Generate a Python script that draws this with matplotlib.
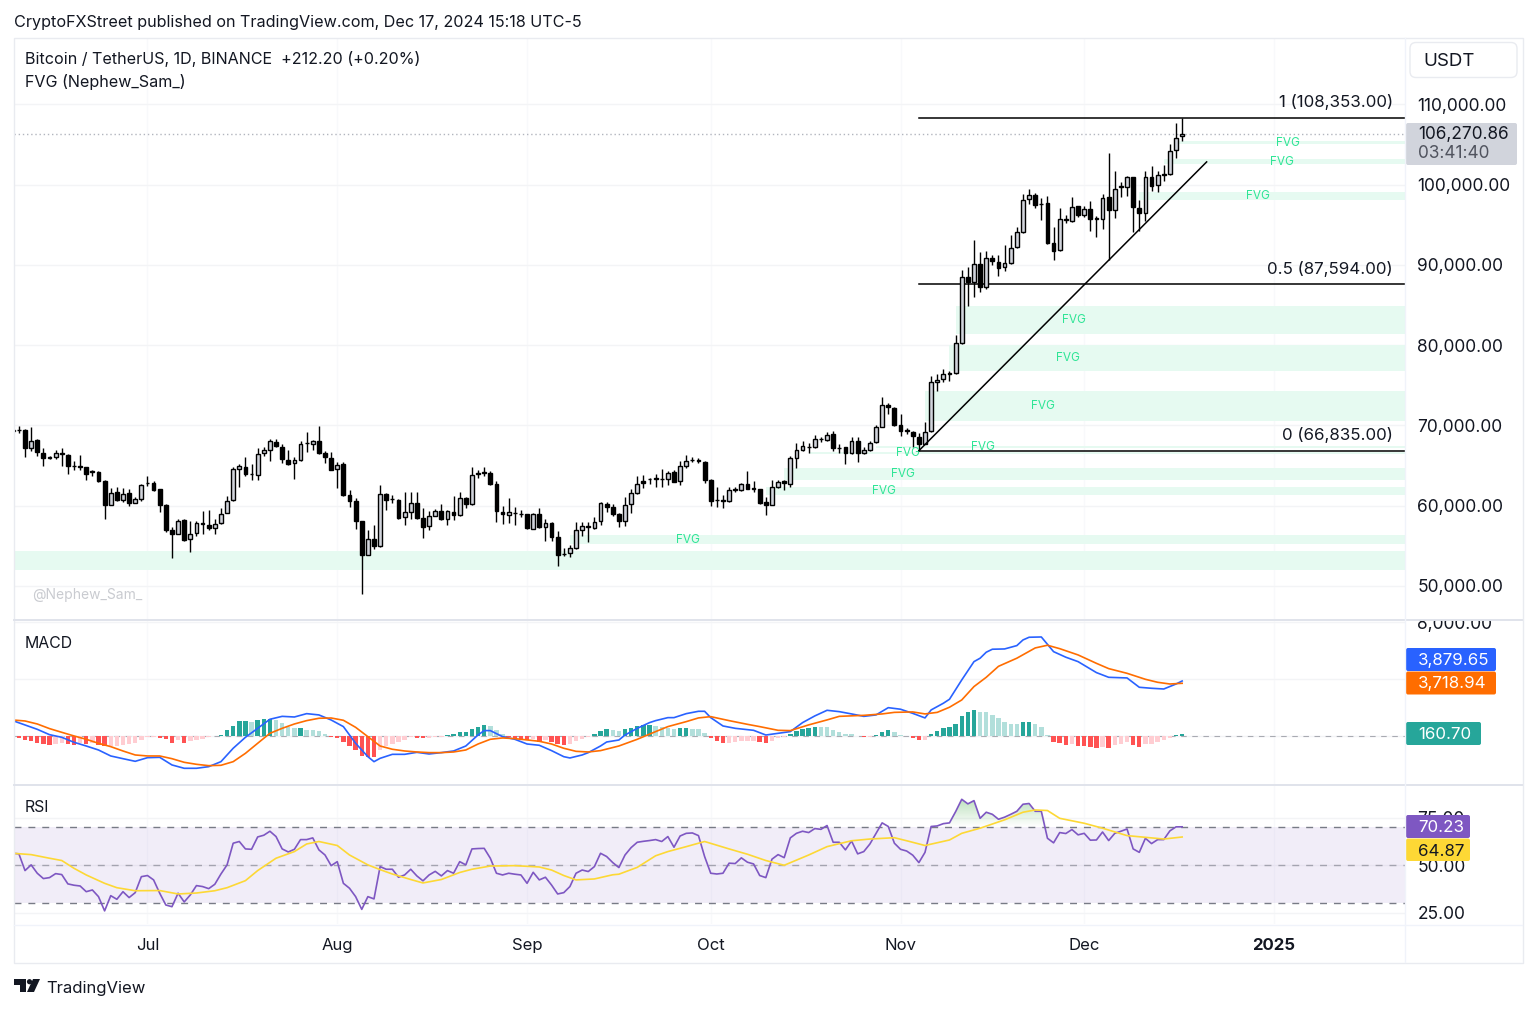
import numpy as np
import matplotlib
matplotlib.use('Agg')
import matplotlib.pyplot as plt
from matplotlib.patches import FancyBboxPatch, Rectangle, Circle, Polygon
from matplotlib.path import Path

plt.rcParams['font.family'] = ['Inter', 'DejaVu Sans']

W, H = 1536, 1010

# daily BTC candles in thousands of USDT, first bar is 22 days before Jul 1
opens = [
    69.3, 69.44, 69.42, 67.14, 68.17, 66.60, 65.97, 66.10, 66.50, 66.35,
    64.95, 64.90, 64.77, 64.25, 64.15, 63.11, 60.12, 61.66, 60.70, 61.53,
    60.37, 60.79, 62.78, 62.78, 62.03, 60.08, 56.89, 56.47, 58.17, 55.77,
    56.60, 57.88, 57.55, 57.22, 57.80, 59.09, 60.66, 64.56, 64.85, 63.90,
    63.82, 66.51, 66.93, 67.97, 67.34, 65.68, 65.27, 65.68, 67.75, 67.68,
    68.05, 66.60, 65.97, 64.56, 65.19, 61.29, 60.58, 58.01, 53.86, 55.85,
    54.94, 61.45, 60.75, 60.70, 58.59, 59.25, 60.33, 58.50, 57.43, 58.71,
    59.33, 58.30, 59.25, 58.84, 60.91,
    60.21, 63.94, 64.10, 64.11, 62.70, 59.25, 58.84, 59.10, 59.0, 58.88,
    57.13, 58.96, 57.34, 57.84, 56.06, 53.95, 54.06, 54.73, 56.97, 57.43,
    57.22, 58.05, 60.25, 59.83, 58.96, 58.13, 60.16, 61.58, 63.03, 63.25,
    63.44, 63.33, 63.28, 64.15, 63.03, 64.98, 65.70, 65.62, 65.44, 63.19,
    60.72, 60.62, 60.54, 61.96, 61.95, 62.65, 62.15, 62.03, 60.41, 60.12,
    62.36, 63.03, 62.70, 65.93, 66.97, 67.30, 67.26, 68.30, 68.22, 68.92,
    67.14, 67.26, 66.51, 68.01, 66.51, 66.93, 67.88, 69.83, 72.49, 72.20,
    70.04, 69.38, 69.21, 68.57,
    67.73, 69.23, 75.34, 75.72, 76.45, 76.47, 80.21, 88.44, 87.82, 90.10,
    87.19, 90.85, 90.39, 89.69, 90.23, 92.18, 94.10, 98.21, 98.75, 97.55,
    97.71, 92.77, 91.85, 95.59, 95.47, 97.30, 96.22, 96.96, 95.76, 95.72,
    98.42, 96.88, 99.70, 99.71, 100.96, 97.13, 96.51, 101.0, 99.96, 101.25,
    101.29, 104.28, 106.06,
]
highs = [
    69.6, 69.96, 69.5, 69.83, 68.30, 67.14, 66.22, 66.93, 67.14, 66.43,
    65.60, 66.35, 64.85, 64.48, 64.36, 63.19, 62.20, 62.36, 62.20, 62.07,
    61.04, 62.70, 63.69, 63.11, 62.12, 60.16, 57.38, 58.34, 58.26, 58.05,
    58.05, 59.29, 59.46, 58.34, 59.71, 61.24, 64.77, 65.19, 66.02, 65.19,
    67.18, 67.26, 68.30, 68.30, 67.68, 66.93, 66.02, 68.01, 69.21, 68.17,
    69.96, 66.76, 66.64, 65.48, 65.39, 61.99, 60.91, 58.09, 56.89, 57.59,
    62.61, 61.62, 61.37, 60.79, 61.66, 61.66, 61.66, 59.71, 59.29, 59.58,
    60.21, 59.46, 61.24, 61.66, 61.04,
    64.85, 64.44, 64.77, 64.36, 63.11, 60.0, 60.95, 59.79, 59.38, 58.96,
    59.04, 59.67, 58.34, 57.92, 56.80, 54.69, 55.02, 57.92, 57.92, 57.92,
    58.55, 60.41, 60.41, 60.21, 59.04, 61.12, 62.07, 63.73, 63.86, 63.44,
    63.94, 64.52, 64.36, 64.44, 65.60, 66.31, 66.10, 65.93, 65.52, 63.28,
    62.28, 61.33, 62.36, 62.28, 62.78, 64.36, 63.03, 62.11, 61.04, 63.19,
    63.19, 63.19, 66.14, 67.76, 68.09, 67.76, 68.84, 68.59, 69.13, 69.25,
    67.68, 67.34, 68.59, 68.59, 67.26, 68.09, 70.08, 73.49, 72.74, 72.32,
    71.41, 69.67, 69.25, 69.0,
    70.35, 76.17, 76.38, 77.0, 76.72, 81.29, 89.40, 89.69, 93.10, 91.56,
    91.77, 91.23, 91.27, 92.52, 93.76, 94.68, 98.84, 99.46, 98.92, 98.34,
    98.63, 94.76, 97.05, 96.26, 98.42, 97.38, 97.38, 98.0, 96.13, 98.84,
    103.95, 101.75, 100.29, 101.12, 101.0, 98.09, 101.75, 102.37, 101.66, 102.45,
    105.07, 107.65, 108.353,
]
lows = [
    69.1, 69.05, 66.02, 66.85, 66.22, 64.98, 65.77, 65.81, 64.98, 63.94,
    64.48, 64.44, 63.24, 63.73, 62.99, 58.30, 60.12, 60.62, 60.41, 59.92,
    60.29, 60.62, 62.41, 61.78, 59.25, 56.68, 53.44, 56.39, 55.60, 54.19,
    56.26, 56.47, 56.97, 56.47, 57.72, 59.04, 60.62, 62.28, 63.73, 63.19,
    63.24, 66.14, 65.60, 67.26, 65.27, 65.10, 63.32, 65.60, 66.64, 66.93,
    66.43, 65.27, 64.44, 62.20, 61.16, 59.79, 57.09, 48.92, 53.82, 54.56,
    54.81, 59.38, 60.29, 58.30, 57.51, 58.34, 58.34, 55.93, 56.97, 58.63,
    58.21, 57.63, 58.21, 58.71, 59.67,
    60.12, 63.44, 63.73, 62.61, 57.92, 57.72, 57.80, 57.51, 58.55, 57.09,
    57.05, 57.22, 55.56, 55.56, 52.45, 53.65, 53.57, 54.56, 56.26, 55.39,
    57.13, 57.55, 59.17, 58.71, 57.38, 57.47, 59.04, 61.45, 62.20, 62.70,
    62.28, 62.36, 62.57, 62.90, 62.57, 64.69, 65.39, 65.35, 62.78, 60.0,
    59.87, 59.71, 60.41, 61.66, 61.78, 62.03, 61.66, 60.21, 58.84, 60.04,
    62.20, 61.95, 62.28, 64.69, 66.76, 66.56, 67.18, 67.88, 68.01, 66.76,
    66.60, 65.14, 66.43, 65.44, 66.43, 66.85, 67.76, 69.75, 71.41, 69.96,
    68.71, 68.92, 67.34, 66.84,
    67.65, 69.11, 74.30, 75.34, 75.55, 76.38, 80.12, 84.91, 86.03, 86.57,
    86.99, 90.02, 88.57, 89.27, 90.10, 92.10, 94.01, 97.59, 97.09, 95.59,
    92.60, 90.64, 91.73, 95.26, 95.30, 96.01, 96.01, 94.26, 93.43, 94.47,
    90.60, 95.84, 98.42, 98.54, 94.05, 94.26, 95.51, 99.25, 99.13, 100.50,
    101.21, 103.28, 105.49,
]
closes = [
    69.4, 69.46, 67.14, 68.09, 66.64, 65.93, 66.02, 66.56, 66.43, 64.98,
    64.90, 64.85, 63.94, 64.23, 63.03, 60.12, 61.62, 60.70, 61.49, 60.29,
    60.79, 62.57, 62.82, 61.95, 60.04, 56.89, 56.47, 58.09, 55.68, 56.51,
    57.88, 57.67, 57.14, 57.67, 59.00, 60.62, 64.56, 64.90, 63.90, 63.98,
    66.47, 66.89, 68.01, 67.39, 65.77, 65.19, 65.68, 67.68, 67.76, 68.01,
    66.60, 66.02, 64.48, 65.10, 61.29, 60.54, 58.05, 53.86, 55.85, 54.94,
    61.45, 60.70, 60.83, 58.50, 59.17, 60.33, 58.46, 57.38, 58.67, 59.29,
    58.26, 59.29, 58.84, 60.95, 60.21,
    63.86, 64.02, 64.15, 62.70, 59.29, 58.88, 59.17, 59.09, 59.0, 57.18,
    58.92, 57.30, 57.80, 56.06, 53.82, 53.90, 54.65, 56.89, 57.47, 57.30,
    57.96, 60.29, 59.83, 58.96, 58.09, 60.08, 61.53, 62.74, 62.86, 63.28,
    63.28, 63.36, 64.07, 62.99, 64.94, 65.52, 65.73, 65.58, 63.19, 60.62,
    60.70, 60.68, 61.91, 62.0, 62.65, 62.11, 62.11, 60.37, 60.12, 62.28,
    62.99, 62.86, 65.89, 66.89, 67.43, 67.34, 68.26, 68.34, 68.84, 67.18,
    67.18, 66.51, 68.01, 66.51, 66.93, 67.80, 69.83, 72.49, 72.24, 70.08,
    69.34, 69.34, 68.63, 67.65,
    69.11, 75.34, 75.68, 76.38, 76.51, 80.21, 88.44, 87.82, 90.10, 87.28,
    90.81, 90.44, 89.65, 90.19, 92.10, 94.05, 98.13, 98.67, 97.51, 97.59,
    92.77, 91.77, 95.68, 95.72, 97.26, 96.17, 96.92, 95.72, 95.80, 98.38,
    96.80, 99.50, 99.79, 100.96, 97.17, 96.51, 100.91, 99.88, 101.16, 101.29,
    104.24, 105.86, 106.27,
]

# fair value gap boxes: first day, top, bottom (thousands), label day (None = no label)
fvg_start = [-30, 69, 101, 104, 108, 119, 127, 131, 132, 162, 166, 168]
fvg_top = [54.27, 56.27, 62.37, 64.72, 66.72, 67.45, 74.33, 80.05, 84.91, 99.10, 103.17, 105.45]
fvg_bottom = [51.91, 55.20, 61.25, 63.22, 66.48, 67.20, 70.49, 76.82, 81.42, 98.11, 102.55, 105.04]
fvg_label_day = [None, 88.3, 120.3, 123.4, 124.2, 136.5, 146.3, 150.4, 151.4, 181.4, 185.3, 186.3]

fib_levels = [108.353, 87.594, 66.835]
fib_names = ['1 (108,353.00)', '0.5 (87,594.00)', '0 (66,835.00)']
trend_days = [126, 173]
trend_prices = [66.835, 102.84]
last_price = 106.27

macd_hist = [
    -70, -90, -280, -330, -440, -560, -590, -510, -500, -560,
    -590, -480, -520, -470, -590, -700, -690, -650, -590, -560,
    -470, -280, -70, -30, -90, -190, -470, -280, -470, -330,
    -230, -160, -70, 50, 120, 420, 750, 1050, 1060, 1030,
    1170, 1190, 1220, 1120, 940, 660, 590, 600, 470, 460,
    400, 190, -50, -120, -420, -700, -980, -1400, -1450, -1460,
    -940, -660, -510, -370, -280, -50, -140, -150, -90, -50,
    -20, 90, 140, 280, 330, 510, 660, 770, 700, 420,
    140, -20, -90, -230, -280, -190, -420, -280, -420, -560,
    -610, -560, -350, -190, -70, 140, 370, 490,
    470, 350, 510, 610, 700, 770, 780, 730, 660, 610,
    510, 590, 600, 540, 490, 230, -120, -330, -470, -440,
    -420, -330, -320, -310, -400, -470, -300, -140, -70, 190,
    400, 510, 590, 640, 630, 620, 470, 330, 190, 140,
    50, -70, -20, 70, 330, 470, 280, 120, 50, -120,
    -280, -260, 140, 350, 590, 640, 890, 1450, 1680, 1870,
    1690, 1680, 1520, 1290, 1010, 870, 840, 980, 990, 840,
    630, 90, -420, -470, -610, -560, -650, -660, -750, -820,
    -780, -790, -610, -560, -420, -610, -770, -560, -510, -370,
    -280, -140, 90, 160.70,
]

macd_days = [
    -22, -20, -18, -16, -14, -12, -10, -8, -6, -4, -2, 0, 2, 4, 6, 8, 10, 12, 14, 16,
    18, 20, 22, 24, 26, 28, 30, 32, 34, 36, 37, 38, 40, 42, 44, 46, 48, 50, 52, 54,
    55, 56, 58, 60, 62, 64, 66, 68, 69, 71, 72, 74, 75, 77, 78, 80, 82, 83, 85, 86,
    88, 90, 91, 92, 94, 96, 99, 101, 105, 107, 109, 111, 113, 115, 117, 119, 121, 123, 125, 127,
    128, 130, 131, 133, 135, 136, 137, 138, 140, 142, 143, 144, 146, 148, 150, 152, 155, 157, 160, 162,
    164, 166, 168, 169,
]
macd_line = [
    1100, 795, 490, 115, -70, -420, -680, -960, -1380, -1570, -1755, -1500, -1475, -2010, -2245, -2245, -2130, -1780, -840, -70,
    560, 1195, 1400, 1355, 1590, 1500, 1145, 680, -490, -1430, -1780, -1545, -1265, -1265, -1125, -1240, -1145, -1030, -680, 95,
    400, 400, -25, -210, -540, -630, -1005, -1430, -1520, -1310, -1145, -680, -400, -260, 90, 560, 960, 1100, 1310, 1310,
    1590, 1755, 1755, 1310, 725, 560, 420, 90, 330, 960, 1430, 1825, 1730, 1570, 1400, 1500, 2010, 1900, 1610, 1290,
    1850, 2320, 2600, 3955, 5240, 5480, 5900, 6110, 6130, 6365, 6760, 6950, 6970, 5940, 5550, 5240, 4470, 4140, 4095, 3440,
    3370, 3320, 3670, 3879.65,
]
signal_days = [
    -22, -20, -18, -16, -14, -12, -10, -8, -6, -4, -2, 0, 2, 4, 6, 8, 10, 12, 14, 16,
    18, 20, 22, 24, 26, 28, 30, 32, 34, 36, 38, 40, 42, 44, 46, 48, 50, 52, 54, 56,
    58, 60, 62, 64, 66, 68, 70, 72, 74, 77, 80, 83, 85, 88, 90, 92, 95, 98, 100, 103,
    105, 108, 111, 113, 117, 120, 122, 125, 127, 129, 131, 133, 135, 137, 139, 142, 145, 147, 149, 152,
    155, 157, 160, 163, 165, 167, 169,
]
signal_line = [
    1145, 1075, 865, 540, 280, 25, -210, -490, -725, -1030, -1310, -1380, -1380, -1570, -1825, -1965, -2060, -2035, -1780, -1195,
    -490, 210, 560, 865, 1100, 1265, 1285, 1125, 630, -25, -680, -910, -1030, -1100, -1145, -1145, -1100, -960, -540, -210,
    -115, -165, -255, -350, -540, -840, -1055, -1100, -1005, -680, -210, 330, 680, 1030, 1290, 1380, 1100, 840, 680, 420,
    400, 800, 1150, 1400, 1470, 1570, 1680, 1710, 1570, 1680, 2040, 2550, 3490, 4140, 4910, 5480, 6200, 6390, 6150, 5710,
    5120, 4750, 4420, 4000, 3790, 3670, 3718.94,
]

rsi = [
    56.3, 56.0, 47.2, 50.2, 45.8, 43.0, 43.5, 45.6, 45.1, 40.2,
    39.5, 39.1, 36.1, 37.0, 33.5, 26.0, 34.0, 32.1, 36.1, 33.0,
    35.6, 44.0, 44.6, 42.3, 35.3, 29.1, 28.2, 35.3, 30.7, 34.4,
    39.3, 38.8, 37.7, 40.0, 45.4, 50.2, 61.6, 62.5, 58.6, 58.4,
    64.9, 65.8, 67.9, 65.1, 58.6, 57.0, 58.4, 63.5, 63.5, 64.4,
    58.1, 55.4, 49.8, 51.9, 40.5, 37.9, 33.5, 26.8, 33.5, 32.3,
    49.3, 47.9, 47.9, 43.7, 44.9, 47.9, 44.4, 41.8, 44.9, 46.8,
    44.4, 47.2, 45.8, 51.9, 50.2, 58.6, 58.8, 58.9, 53.7, 45.8,
    44.9, 45.8, 45.3, 44.9, 40.5, 46.3, 42.3, 43.7, 39.6, 34.9,
    35.6, 38.8, 45.8, 47.5, 46.7, 49.3, 56.3, 54.6,
    51.4, 48.8, 55.4, 59.3, 62.1, 62.6, 63.0, 63.5, 62.5, 65.1,
    59.5, 65.4, 66.8, 67.0, 65.6, 54.6, 45.8, 45.4, 45.8, 51.1,
    50.9, 53.9, 51.6, 50.7, 44.6, 43.5, 53.2, 55.6, 54.0, 64.4,
    66.8, 67.9, 67.2, 69.3, 68.9, 70.9, 62.1, 62.1, 58.1, 62.8,
    56.0, 57.2, 61.2, 66.8, 72.3, 70.4, 61.6, 58.4, 57.5, 55.3,
    51.4, 56.8, 70.4, 70.7, 71.9, 72.3, 78.2, 84.7, 82.3, 84.0,
    74.7, 77.9, 76.8, 74.2, 75.3, 76.8, 78.4, 82.1, 82.5, 78.4,
    78.4, 64.2, 61.8, 67.2, 66.7, 68.8, 66.0, 66.8, 63.2, 63.3,
    67.5, 63.0, 66.8, 67.9, 69.1, 58.6, 56.8, 64.2, 61.4, 63.5,
    63.5, 68.1, 70.2, 70.23,
]
rsi_ma_days = [
    -22, -19, -16, -14, -12, -10, -7, -5, -2, 2, 5, 8, 11, 13, 16, 18, 21, 24, 26, 28,
    31, 33, 36, 38, 40, 43, 45, 48, 51, 53, 56, 60, 64, 66, 68, 70, 73, 76, 77, 80,
    83, 85, 88, 91, 95, 98, 101, 104, 108, 111, 115, 118, 122, 124, 127, 131, 133, 136, 140, 143,
    145, 147, 149, 153, 156, 160, 163, 166, 169,
]
rsi_ma = [
    56.3, 55.6, 53.7, 52.5, 48.4, 44.9, 40.5, 38.2, 36.6, 36.7, 34.9, 35.4, 36.6, 38.2, 41.9, 47.2, 53.7, 57.2, 61.2, 62.5,
    60.4, 55.4, 50.2, 47.7, 45.4, 42.5, 40.7, 42.5, 46.2, 47.9, 49.6, 49.8, 49.1, 47.5, 44.6, 42.3, 42.8, 45.0, 45.3, 48.9,
    55.0, 57.2, 59.8, 62.5, 58.6, 55.8, 52.5, 50.0, 55.4, 59.8, 62.9, 63.8, 64.5, 62.9, 60.4, 63.3, 66.8, 69.5, 73.9, 77.9,
    79.1, 78.8, 74.7, 72.1, 69.5, 65.6, 64.7, 63.8, 64.87,
]

month_days = [0, 31, 62, 92, 123, 153, 184]
month_names = ['Jul', 'Aug', 'Sep', 'Oct', 'Nov', 'Dec', '2025']
price_ticks = [50, 60, 70, 80, 90, 100, 110]
macd_ticks = [0, 4000, 8000]
rsi_ticks = [25, 50, 75]

days = np.arange(len(closes)) - 22
opens = np.array(opens)
closes = np.array(closes)
highs = np.array(highs)
lows = np.array(lows)
macd_hist = np.array(macd_hist, dtype=float)
rsi = np.array(rsi)

INK = '#131722'
X_LEFT, X_RIGHT = -21.8, 205.4


def pane(y_top, y_bottom):
    ax = fig.add_axes([14 / W, 1 - y_bottom / H, (1405 - 14) / W, (y_bottom - y_top) / H])
    ax.set_xlim(X_LEFT, X_RIGHT)
    ax.set_xticks(month_days)
    ax.set_xticklabels([])
    ax.grid(True, axis='y', color='#f3f4f6', lw=1)
    ax.grid(True, axis='x', color='#f8f9fb', lw=1)
    ax.set_axisbelow(True)
    ax.yaxis.tick_right()
    ax.tick_params(axis='both', length=0)
    ax.tick_params(axis='y', pad=9.0, labelsize=12.5, labelcolor=INK)
    for s in ax.spines.values():
        s.set_visible(False)
    return ax


fig = plt.figure(figsize=(W / 100, H / 100), dpi=100, facecolor='white')

# price pane
ax = pane(38, 619)
ax.set_ylim(45.85, 118.29)
ax.set_yticks(price_ticks)
ax.set_yticklabels([f'{t * 1000:,.0f}.00' for t in price_ticks])

for start, zone_top, zone_bottom, lab in zip(fvg_start, fvg_top, fvg_bottom, fvg_label_day):
    ax.fill_between([start, X_RIGHT], zone_bottom, zone_top, color='#e6faf1', lw=0, zorder=1)
    if lab is not None:
        ax.text(lab, (zone_top + zone_bottom) / 2, 'FVG', color='#2fe596', fontsize=8.5,
                ha='center', va='center', zorder=6)

ax.axhline(last_price, color='#b2b5be', lw=1, ls=(0, (1, 2)), zorder=2)

up = closes >= opens
ax.vlines(days, lows, highs, color='black', lw=1.0, zorder=4)
ax.bar(days[up], (closes - opens)[up], bottom=opens[up], width=0.62,
       color='#d1d4dc', edgecolor='black', lw=1.0, zorder=5)
ax.bar(days[~up], (closes - opens)[~up], bottom=opens[~up], width=0.62,
       color='black', edgecolor='black', lw=1.0, zorder=5)

for level, name in zip(fib_levels, fib_names):
    ax.plot([126, X_RIGHT], [level, level], color='black', lw=1.1, zorder=3)
    ax.annotate(name, (203.4, level), xytext=(0, 11), textcoords='offset points',
                ha='right', va='center', fontsize=12.2, color=INK, zorder=7)
ax.plot(trend_days, trend_prices, color='black', lw=1.1, zorder=7)

# MACD pane, the 0 and 4,000 labels sit behind the value tags in the original
ax2 = pane(620, 784)
ax2.set_ylim(-3347, 8161)
ax2.set_yticks(macd_ticks)
ax2.set_yticklabels(['', '', '8,000.00'])
ax2.axhline(0, color='#787b86', lw=0.8, ls=(0, (5, 5)), alpha=0.6, zorder=2)

prev = np.r_[macd_hist[0], macd_hist[:-1]]
hist_colors = []
for v, p in zip(macd_hist, prev):
    if v >= 0:
        hist_colors.append('#26a69a' if v >= p else '#b2dfdb')
    else:
        hist_colors.append('#ffcdd2' if v >= p else '#ff5252')
ax2.bar(days, macd_hist, width=0.72, color=hist_colors, lw=0, zorder=3)
ax2.plot(macd_days, macd_line, color='#2962ff', lw=1.2, zorder=4)
ax2.plot(signal_days, signal_line, color='#ff6d00', lw=1.2, zorder=5)

# RSI pane
ax3 = pane(786, 924)
ax3.set_ylim(19.1, 91.7)
ax3.set_yticks(rsi_ticks)
ax3.set_yticklabels([f'{t:.2f}' for t in rsi_ticks])
ax3.fill_between([X_LEFT, X_RIGHT], 30, 70, color='#7e57c2', alpha=0.1, lw=0, zorder=1)
for level, alpha in zip([70, 50, 30], [1.0, 0.6, 1.0]):
    ax3.axhline(level, color='#787b86', lw=1, ls=(0, (5, 5)), alpha=alpha, zorder=2)

# overbought fill fades out towards the 70 line
gradient = np.zeros((64, 2, 4))
gradient[..., 0] = 0.30
gradient[..., 1] = 0.69
gradient[..., 2] = 0.31
gradient[..., 3] = np.linspace(0.38, 0, 64)[:, None]
over = ax3.fill_between(days, 70, np.maximum(rsi, 70), color='none', lw=0)
img = ax3.imshow(gradient, extent=[X_LEFT, X_RIGHT, 70, 85], origin='upper', aspect='auto', zorder=2)
img.set_clip_path(Path(over.get_paths()[0].vertices), transform=ax3.transData)
ax3.set_xlim(X_LEFT, X_RIGHT)
ax3.set_ylim(19.1, 91.7)

ax3.plot(days, rsi, color='#7e57c2', lw=1.2, zorder=4)
ax3.plot(rsi_ma_days, rsi_ma, color='#fdd835', lw=1.2, zorder=5)

ax3.set_xticklabels(month_names)
ax3.tick_params(axis='x', pad=10, labelsize=12, labelcolor=INK)
ax3.get_xticklabels()[-1].set_fontweight('bold')

# everything that sits around the panes, in picture pixels
top = fig.add_axes([0, 0, 1, 1], zorder=10)
top.set_xlim(0, W)
top.set_ylim(H, 0)
top.axis('off')
top.patch.set_visible(False)

top.add_patch(Rectangle((1406, 606), 115, 13.5, color='white', lw=0))
top.add_patch(Rectangle((13.5, 37.5), 1509, 925, fill=False, ec='#e9ebf0', lw=1))
top.plot([14, 1522], [619.5, 619.5], color='#e0e3eb', lw=1.4)
top.plot([14, 1522], [785, 785], color='#e0e3eb', lw=1.4)
top.plot([14, 1522], [924.5, 924.5], color='#f0f3fa', lw=1)
top.plot([1405, 1405], [38, 962], color='#f0f3fa', lw=1)


def tag(x0, y0, x1, y1, color):
    top.add_patch(FancyBboxPatch((x0, y0), x1 - x0, y1 - y0, boxstyle='round,pad=0,rounding_size=2',
                                 fc=color, ec='none'))


tag(1406, 123, 1517, 165, '#d1d4dc')
tag(1406, 648, 1496, 671, '#2962ff')
tag(1406, 671.5, 1496, 694.5, '#ff6d00')
tag(1406, 722, 1481, 745, '#26a69a')
tag(1406, 815, 1470, 838, '#7e57c2')
tag(1406, 838.5, 1470, 861, '#fdd835')

top.add_patch(FancyBboxPatch((1410, 42.5), 107, 35, boxstyle='round,pad=0,rounding_size=6',
                             fc='white', ec='#e9ebf0', lw=1))
top.text(1423, 61, 'USDT', fontsize=13.5, color=INK, va='center')

top.text(1418, 135, '106,270.86', fontsize=12.4, color=INK, va='center')
top.text(1418, 154, '03:41:40', fontsize=12.4, color='#50535e', va='center')
top.text(1418, 660.5, '3,879.65', fontsize=12.2, color='white', va='center')
top.text(1418, 683.5, '3,718.94', fontsize=12.2, color='white', va='center')
top.text(1418, 734.5, '160.70', fontsize=12.2, color='white', va='center')
top.text(1418, 827.5, '70.23', fontsize=12.2, color='white', va='center')
top.text(1418, 851, '64.87', fontsize=12.2, color=INK, va='center')

top.text(14, 23, 'CryptoFXStreet published on TradingView.com, Dec 17, 2024 15:18 UTC-5',
         fontsize=11.65, color=INK, va='center')
top.text(25, 59, 'Bitcoin / TetherUS, 1D, BINANCE  +212.20 (+0.20%)', fontsize=11.6, color=INK, va='center')
top.text(25, 82, 'FVG (Nephew_Sam_)', fontsize=11.6, color=INK, va='center')
top.text(25, 644, 'MACD', fontsize=11.4, color=INK, va='center')
top.text(25, 808, 'RSI', fontsize=11.4, color=INK, va='center')
top.text(32, 595, '@Nephew_Sam_', fontsize=10, color='#c9cbd0', va='center')

# TradingView logo
top.add_patch(Polygon([(14, 979), (26, 979), (26, 992), (20, 992), (20, 984.5), (14, 984.5)], color=INK, lw=0))
top.add_patch(Circle((29.5, 981.7), 2.6, color=INK, lw=0))
top.add_patch(Polygon([(33, 979), (40, 979), (34, 992), (27, 992)], color=INK, lw=0))
top.text(46.5, 988, 'TradingView', fontsize=12, color=INK, va='center')

fig.savefig('out.png', dpi=100)
